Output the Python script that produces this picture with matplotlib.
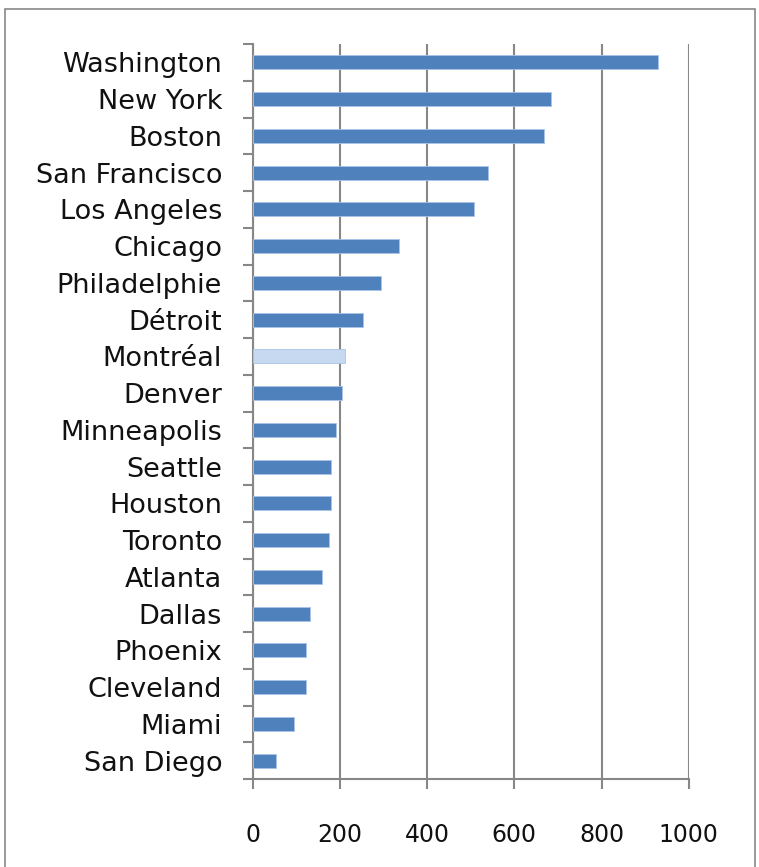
import matplotlib
matplotlib.use("Agg")
import matplotlib.pyplot as plt
from matplotlib.patches import Rectangle

cities = ["Washington", "New York", "Boston", "San Francisco", "Los Angeles",
          "Chicago", "Philadelphie", "Détroit", "Montréal", "Denver",
          "Minneapolis", "Seattle", "Houston", "Toronto", "Atlanta",
          "Dallas", "Phoenix", "Cleveland", "Miami", "San Diego"]
values = [930, 684, 669, 539, 508, 336, 294, 252, 212, 205,
          190, 180, 180, 174, 158, 132, 122, 122, 95, 54]
highlight = "Montréal"
xticks = [0, 200, 400, 600, 800, 1000]

plt.rcParams['font.family'] = ['DejaVu Sans']

W, H = 759, 867
fig = plt.figure(figsize=(W / 100, H / 100), dpi=100)
ax = fig.add_axes([252.7 / W, 1 - 779 / H, (688.7 - 252.7) / W, (779 - 44) / H])

n = len(cities)
ypos = list(range(n))[::-1]
colors = ["#C6D9F1" if c == highlight else "#4F81BD" for c in cities]
ax.barh(ypos, values, height=0.38, color=colors, edgecolor="#A9C4E8", linewidth=0.6, zorder=3)

ax.set_xlim(0, 1000)
ax.set_ylim(-0.5, n - 0.5)
ax.set_xticks(xticks)
ax.set_xticklabels([str(t) for t in xticks], fontsize=17, color="#111111")
ax.set_yticks(ypos)
ax.set_yticklabels(cities, fontsize=19.5, color="#111111")
ax.set_yticks([i - 0.5 for i in range(n + 1)], minor=True)

gc = "#878787"
ax.grid(axis="x", color=gc, linewidth=1.5, zorder=1)
for s in ["top", "right"]:
    ax.spines[s].set_visible(False)
for s in ["left", "bottom"]:
    ax.spines[s].set_color(gc)
    ax.spines[s].set_linewidth(1.5)

ax.tick_params(axis="y", which="major", length=0, pad=22)
ax.tick_params(axis="y", which="minor", length=7, width=1.5, color=gc)
ax.tick_params(axis="x", length=7, width=1.5, color=gc, pad=25)

fig.patches.append(Rectangle((4.5 / W, -0.05), (755 - 4.5) / W, 1.05 - 9 / H,
                             transform=fig.transFigure, fill=False,
                             edgecolor="#878787", linewidth=1.2))

fig.savefig("out.png", dpi=100)
